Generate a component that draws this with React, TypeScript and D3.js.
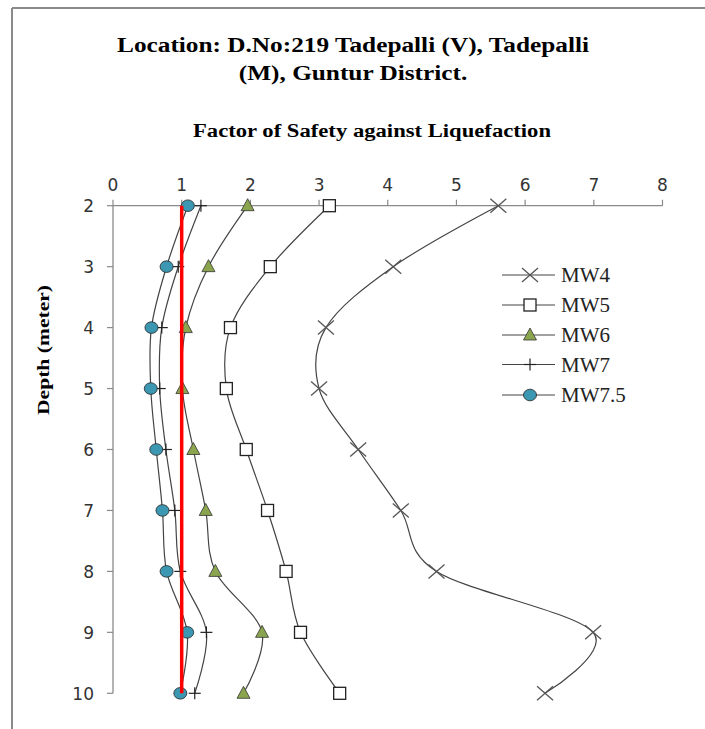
import React from "react";
import * as d3 from "d3";

const depths = [2, 3, 4, 5, 6, 7, 8, 9, 10];
const mw4 = [5.61, 4.08, 3.1, 3.0, 3.57, 4.19, 4.71, 6.99, 6.29];
const mw5 = [3.15, 2.29, 1.71, 1.65, 1.94, 2.25, 2.52, 2.73, 3.3];
const mw6 = [1.96, 1.39, 1.06, 1.01, 1.17, 1.35, 1.49, 2.17, 1.9];
const mw7 = [1.28, 0.95, 0.71, 0.68, 0.77, 0.9, 0.98, 1.36, 1.19];
const mw75 = [1.09, 0.78, 0.56, 0.55, 0.63, 0.72, 0.78, 1.08, 0.98];
const seriesNames = ["MW4", "MW5", "MW6", "MW7", "MW7.5"];
const xTicks = [0, 1, 2, 3, 4, 5, 6, 7, 8];
const safetyLine = 1;

const W = 705;
const H = 729;

type Kind = "x" | "square" | "triangle" | "plus" | "circle";
const kinds: Kind[] = ["x", "square", "triangle", "plus", "circle"];
const allSeries = [mw4, mw5, mw6, mw7, mw75];

function Marker({ kind, cx, cy }: { kind: Kind; cx: number; cy: number }) {
  switch (kind) {
    case "x":
      return (
        <g stroke="#555" strokeWidth={1.3}>
          <line x1={cx - 8} y1={cy - 7} x2={cx + 8} y2={cy + 7} />
          <line x1={cx - 8} y1={cy + 7} x2={cx + 8} y2={cy - 7} />
        </g>
      );
    case "square":
      return <rect x={cx - 6} y={cy - 6} width={12} height={12} fill="#fff" stroke="#222" strokeWidth={1.3} />;
    case "triangle":
      return (
        <path
          d={`M${cx},${cy - 7}L${cx + 6.5},${cy + 5}L${cx - 6.5},${cy + 5}Z`}
          fill="#8AA54E"
          stroke="#333"
          strokeWidth={0.8}
        />
      );
    case "plus":
      return (
        <g stroke="#222" strokeWidth={1.2}>
          <line x1={cx - 6} y1={cy} x2={cx + 6} y2={cy} />
          <line x1={cx} y1={cy - 6} x2={cx} y2={cy + 6} />
        </g>
      );
    case "circle":
      return <ellipse cx={cx} cy={cy} rx={6.5} ry={5.8} fill="#3C98B2" stroke="#222" strokeWidth={0.8} />;
  }
}

export default function App() {
  const x = d3.scaleLinear().domain([0, 8]).range([113, 662.5]);
  const y = d3.scaleLinear().domain([2, 10]).range([205.7, 693.3]);
  const line = d3
    .line<[number, number]>()
    .x((d) => x(d[0]))
    .y((d) => y(d[1]))
    .curve(d3.curveCardinal.tension(0));

  const legendY = [275, 305, 335, 364.5, 395];

  return (
    <svg width={W} height={H} style={{ position: "absolute", left: 0, top: 0 }}>
      <rect x={0} y={0} width={W} height={H} fill="#fff" />
      {/* frame */}
      <line x1={12} y1={8} x2={W} y2={8} stroke="#8a8a8a" strokeWidth={2} />
      <line x1={12} y1={8} x2={12} y2={H} stroke="#8a8a8a" strokeWidth={2} />

      {/* titles */}
      <text transform="translate(353,52) scale(1.15,1)" textAnchor="middle" fontFamily="Liberation Serif" fontWeight="bold" fontSize={22} fill="#000">
        Location: D.No:219 Tadepalli (V), Tadepalli
      </text>
      <text transform="translate(353,80) scale(1.15,1)" textAnchor="middle" fontFamily="Liberation Serif" fontWeight="bold" fontSize={22} fill="#000">
        (M), Guntur District.
      </text>
      <text x={193} y={137} textLength={358} lengthAdjust="spacingAndGlyphs" fontFamily="Liberation Serif" fontWeight="bold" fontSize={18} fill="#000">
        Factor of Safety against Liquefaction
      </text>
      <text
        transform={`translate(49,415) rotate(-90)`}
        textLength={130}
        lengthAdjust="spacingAndGlyphs"
        fontFamily="Liberation Serif"
        fontWeight="bold"
        fontSize={17}
        fill="#000"
      >
        Depth (meter)
      </text>

      {/* axes */}
      <line x1={x(0)} y1={y(2)} x2={x(8)} y2={y(2)} stroke="#8a8a8a" strokeWidth={1.3} />
      <line x1={x(0)} y1={y(2)} x2={x(0)} y2={y(10)} stroke="#8a8a8a" strokeWidth={1.3} />
      {xTicks.map((t) => (
        <g key={"xt" + t}>
          <line x1={x(t)} y1={y(2) - 6} x2={x(t)} y2={y(2)} stroke="#8a8a8a" strokeWidth={1.2} />
          <text x={x(t)} y={191} textAnchor="middle" fontFamily="DejaVu Sans" fontSize={17} fill="#333">
            {t}
          </text>
        </g>
      ))}
      {depths.map((d) => (
        <g key={"yt" + d}>
          <line x1={x(0) - 6} y1={y(d)} x2={x(0)} y2={y(d)} stroke="#8a8a8a" strokeWidth={1.2} />
          <text x={94} y={y(d) + 6.5} textAnchor="end" fontFamily="DejaVu Sans" fontSize={17} fill="#333">
            {d}
          </text>
        </g>
      ))}

      {/* series */}
      {allSeries.map((vals, i) => (
        <path
          key={"l" + i}
          d={line(vals.map((v, j) => [v, depths[j]]) as [number, number][]) || ""}
          fill="none"
          stroke="#444"
          strokeWidth={1.2}
        />
      ))}
      {allSeries.map((vals, i) => (
        <g key={"m" + i}>
          {vals.map((v, j) => (
            <Marker key={j} kind={kinds[i]} cx={x(v)} cy={y(depths[j])} />
          ))}
        </g>
      ))}

      {/* FS = 1 line */}
      <line x1={x(safetyLine)} y1={y(2)} x2={x(safetyLine)} y2={y(10)} stroke="#ff0000" strokeWidth={3.5} />

      {/* legend */}
      {seriesNames.map((n, i) => (
        <g key={"lg" + i}>
          <line x1={502} y1={legendY[i]} x2={555} y2={legendY[i]} stroke="#444" strokeWidth={1.2} />
          <Marker kind={kinds[i]} cx={530} cy={legendY[i]} />
          <text x={561} y={legendY[i] + 7} fontFamily="Liberation Serif" fontSize={21} fill="#222">
            {n}
          </text>
        </g>
      ))}
    </svg>
  );
}
